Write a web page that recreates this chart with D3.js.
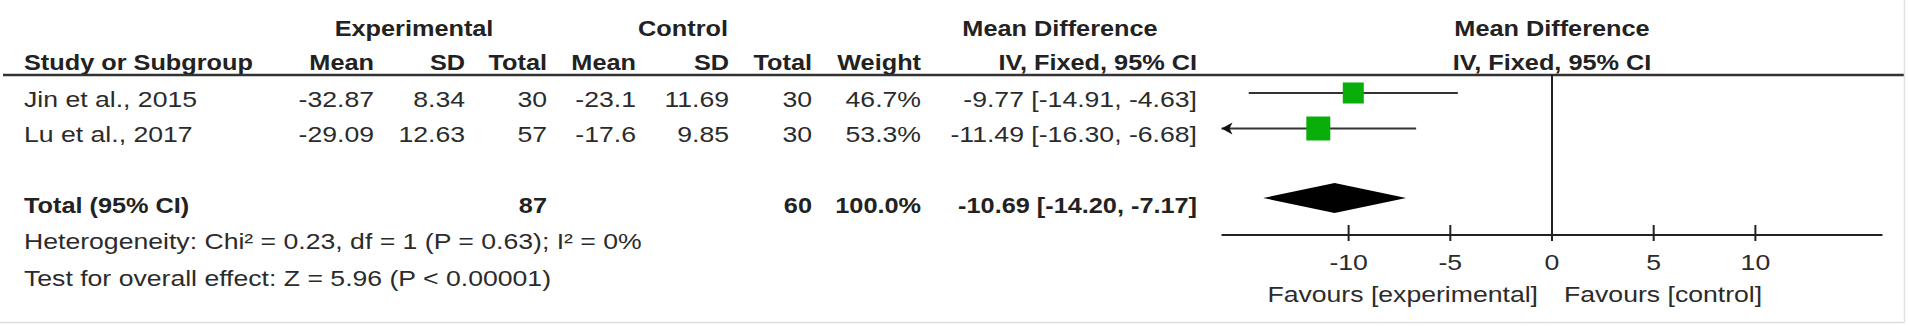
<!DOCTYPE html>
<html lang="en">
<head>
    <meta charset="UTF-8">
    <title>Forest Plot - Mean Difference</title>
    <script src="https://d3js.org/d3.v7.min.js"></script>
    <style>
        body {
            margin: 0;
            background: #fff;
            overflow: hidden;
        }
        svg {
            display: block;
            font-family: "Liberation Sans", Arial, sans-serif;
        }
        .reg { font-size: 22px; fill: #2b2b2b; }
        .bold { font-size: 22px; font-weight: bold; fill: #222; }
    </style>
</head>
<body>
    <svg id="chart" width="1908" height="326"></svg>

    <script>
        // study rows
        const studies = ["Jin et al., 2015", "Lu et al., 2017"];
        const expMean = ["-32.87", "-29.09"];
        const expSD = ["8.34", "12.63"];
        const expTotal = [30, 57];
        const ctlMean = ["-23.1", "-17.6"];
        const ctlSD = ["11.69", "9.85"];
        const ctlTotal = [30, 30];
        const weights = [46.7, 53.3];
        const md = [-9.77, -11.49];
        const mdLow = [-14.91, -16.30];
        const mdHigh = [-4.63, -6.68];

        // pooled result
        const totalExp = 87;
        const totalCtl = 60;
        const totalWeight = 100.0;
        const totalMd = [-10.69, -14.20, -7.17];   // estimate, low, high

        const ticks = [-10, -5, 0, 5, 10];
        const heterogeneity = "Heterogeneity: Chi\u00b2 = 0.23, df = 1  (P = 0.63); I\u00b2 = 0%";
        const overallTest = "Test for overall effect: Z = 5.96 (P < 0.00001)";

        const svg = d3.select("#chart");
        // plain hyphen for negatives, like the original
        const loc = d3.formatLocale({ decimal: ".", thousands: ",", grouping: [3], currency: ["", ""], minus: "-" });
        const f2 = loc.format(".2f");
        const f1 = loc.format(".1f");
        const ciText = (m, l, h) => `${f2(m)} [${f2(l)}, ${f2(h)}]`;

        // text is horizontally stretched in the original
        const SX_REG = 1.21, SX_BOLD = 1.15;
        function txt(x, y, s, anchor, bold) {
            return svg.append("text")
                .attr("class", bold ? "bold" : "reg")
                .attr("text-anchor", anchor || "start")
                .attr("transform", `translate(${x},${y}) scale(${bold ? SX_BOLD : SX_REG},1)`)
                .text(s);
        }

        // column right edges
        const col = { study: 24, eMean: 374, eSD: 465, eTot: 547, cMean: 636, cSD: 729, cTot: 812, w: 921, ci: 1197 };
        const rowY = [107, 142];
        const yHead1 = 36, yHead2 = 70, yTotal = 213, yHet = 249, yTest = 286;

        // plot scale
        const x = d3.scaleLinear().domain([-16.25, 16.25]).range([1221.5, 1882.5]);
        const side = d3.scaleLinear().domain([0, 100]).range([0, 45]);
        const markY = [93, 128.5];
        const diamondY = 198, axisY = 235, lineTop = 75;

        // headers
        txt(414, yHead1, "Experimental", "middle", true);
        txt(683, yHead1, "Control", "middle", true);
        txt(1060, yHead1, "Mean Difference", "middle", true);
        txt(x(0), yHead1, "Mean Difference", "middle", true);
        txt(col.study, yHead2, "Study or Subgroup", "start", true);
        txt(col.eMean, yHead2, "Mean", "end", true);
        txt(col.eSD, yHead2, "SD", "end", true);
        txt(col.eTot, yHead2, "Total", "end", true);
        txt(col.cMean, yHead2, "Mean", "end", true);
        txt(col.cSD, yHead2, "SD", "end", true);
        txt(col.cTot, yHead2, "Total", "end", true);
        txt(col.w, yHead2, "Weight", "end", true);
        txt(col.ci, yHead2, "IV, Fixed, 95% CI", "end", true);
        txt(x(0), yHead2, "IV, Fixed, 95% CI", "middle", true);

        svg.append("line")
            .attr("x1", 3).attr("x2", 1905)
            .attr("y1", lineTop).attr("y2", lineTop)
            .attr("stroke", "#333").attr("stroke-width", 2.5);

        // study rows
        studies.forEach((s, i) => {
            const y = rowY[i];
            txt(col.study, y, s);
            txt(col.eMean, y, expMean[i], "end");
            txt(col.eSD, y, expSD[i], "end");
            txt(col.eTot, y, expTotal[i], "end");
            txt(col.cMean, y, ctlMean[i], "end");
            txt(col.cSD, y, ctlSD[i], "end");
            txt(col.cTot, y, ctlTotal[i], "end");
            txt(col.w, y, f1(weights[i]) + "%", "end");
            txt(col.ci, y, ciText(md[i], mdLow[i], mdHigh[i]), "end");
        });

        // totals
        txt(col.study, yTotal, "Total (95% CI)", "start", true);
        txt(col.eTot, yTotal, totalExp, "end", true);
        txt(col.cTot, yTotal, totalCtl, "end", true);
        txt(col.w, yTotal, f1(totalWeight) + "%", "end", true);
        txt(col.ci, yTotal, ciText(...totalMd), "end", true);
        txt(col.study, yHet, heterogeneity);
        txt(col.study, yTest, overallTest);

        // null line
        svg.append("line")
            .attr("x1", x(0)).attr("x2", x(0))
            .attr("y1", lineTop).attr("y2", axisY)
            .attr("stroke", "#222").attr("stroke-width", 2);

        // confidence intervals
        const [d0, d1] = x.domain();
        studies.forEach((s, i) => {
            const y = markY[i];
            const lo = Math.max(mdLow[i], d0), hi = Math.min(mdHigh[i], d1);
            svg.append("line")
                .attr("x1", x(lo)).attr("x2", x(hi))
                .attr("y1", y).attr("y2", y)
                .attr("stroke", "#333").attr("stroke-width", 2.2);
            if (mdLow[i] < d0) {
                const ax = x(d0);
                svg.append("path")
                    .attr("d", `M${ax},${y} L${ax + 11},${y - 6} L${ax + 8},${y} L${ax + 11},${y + 6} Z`)
                    .attr("fill", "#111");
            }
            const sz = side(weights[i]);
            svg.append("rect")
                .attr("x", x(md[i]) - sz / 2).attr("y", y - sz / 2)
                .attr("width", sz).attr("height", sz)
                .attr("fill", "#0aae0a");
        });

        // pooled diamond
        const [tm, tl, th] = totalMd;
        svg.append("path")
            .attr("d", `M${x(tl)},${diamondY} L${x(tm)},${diamondY - 15} L${x(th)},${diamondY} L${x(tm)},${diamondY + 15} Z`)
            .attr("fill", "#000");

        // axis
        svg.append("line")
            .attr("x1", x(d0)).attr("x2", x(d1))
            .attr("y1", axisY).attr("y2", axisY)
            .attr("stroke", "#222").attr("stroke-width", 2);
        ticks.forEach(t => {
            svg.append("line")
                .attr("x1", x(t)).attr("x2", x(t))
                .attr("y1", axisY - 10).attr("y2", axisY + 6)
                .attr("stroke", "#222").attr("stroke-width", 2);
            txt(x(t), 270, t, "middle");
        });
        txt(x(0) - 14, 302, "Favours [experimental]", "end");
        txt(x(0) + 12, 302, "Favours [control]", "start");

        // light frame on right and bottom
        svg.append("line")
            .attr("x1", 0).attr("x2", 1905).attr("y1", 322.5).attr("y2", 322.5)
            .attr("stroke", "#ddd").attr("stroke-width", 1.5);
        svg.append("line")
            .attr("x1", 1904.5).attr("x2", 1904.5).attr("y1", 0).attr("y2", 322.5)
            .attr("stroke", "#e4e4e4").attr("stroke-width", 1.5);
    </script>
</body>
</html>
